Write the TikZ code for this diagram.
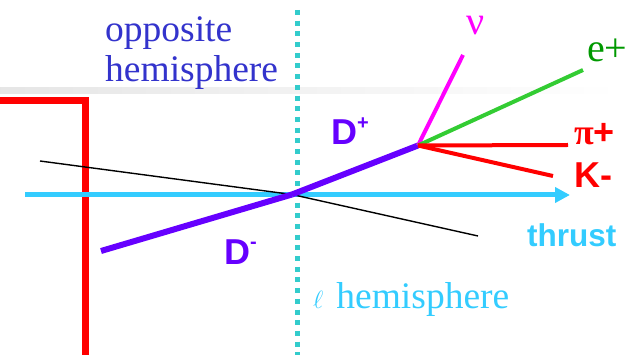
\documentclass[tikz,border=0pt]{standalone}
\usepackage{fontspec}
\setmainfont{Liberation Serif}
\setsansfont{Liberation Sans}
\usetikzlibrary{arrows.meta}
\definecolor{dpurple}{RGB}{102,0,255}
\definecolor{thrustc}{RGB}{51,204,255}
\definecolor{tealc}{RGB}{51,204,204}
\definecolor{hemblue}{RGB}{51,51,204}
\definecolor{magc}{RGB}{255,0,255}
\definecolor{greenl}{RGB}{51,204,51}
\definecolor{greent}{RGB}{0,153,0}
\definecolor{redc}{RGB}{255,0,0}
\tikzset{
  track/.style={line width=4pt},
  serifl/.style={inner sep=0pt, font=\fontsize{37.5}{40.5}\selectfont},
  sansl/.style={inner sep=0pt, font=\sffamily\bfseries\fontsize{36}{40}\selectfont},
}
\begin{document}
\begin{tikzpicture}[x=1pt,y=-1pt]
\useasboundingbox (0,0) rectangle (633,355);
% gray band
\shade[left color=black!10, right color=white] (0,88) rectangle (620,94);
% coordinates
\coordinate (ip) at (292,194.5);
\coordinate (dm) at (101,251);
\coordinate (dv) at (418,145.5);
\coordinate (nu) at (463,55);
\coordinate (ep) at (583,70);
\coordinate (pi) at (568,145);
\coordinate (km) at (553,176);
\coordinate (bl1) at (40,161);
\coordinate (bl2) at (478,236);
\coordinate (th1) at (25,195);
\coordinate (th2) at (570,195);
\coordinate (dtop) at (297.5,10);
\coordinate (dbot) at (297.5,355);
\coordinate (r1) at (0,100.5);
\coordinate (r2) at (85.5,100.5);
\coordinate (r3) at (85.5,355);
% red L
\draw[redc, line width=7.5pt] (r1) -- (r2) -- (r3);
% dotted hemisphere divider
\draw[tealc, line width=5pt, dash pattern=on 5pt off 5.7pt] (dtop) -- (dbot);
% thrust
\draw[thrustc, line width=5pt, -{Triangle[length=15pt,width=15pt]}] (th1) -- (th2);
% black line
\draw[black, line width=1.4pt] (bl1) -- (ip) -- (bl2);
% D lines
\draw[dpurple, line width=6pt] (dm) -- (ip);
\draw[dpurple, line width=6pt] (ip) -- (dv);
% decay products
\draw[magc, track] (dv) -- (nu);
\draw[greenl, track] (dv) -- (ep);
\draw[redc, track] (dv) -- (pi);
\draw[redc, track] (dv) -- (km);
% labels
\node[serifl, text=hemblue, align=left, anchor=north west] (opp) at (105,16) {opposite\\hemisphere};
\node[serifl, text=thrustc, anchor=base west] (lhem) at (313,309) {{\fontsize{40}{40}\selectfont$\ell$}\hspace{13pt}hemisphere};
\node[sansl, text=dpurple, anchor=base west] (dplus) at (331,145) {D\raisebox{0.42em}{\fontsize{20}{20}\selectfont +}};
\node[sansl, text=dpurple, anchor=base west] (dminus) at (224,265) {D\raisebox{0.45em}{\fontsize{20}{20}\selectfont -}};
\node[font=\fontsize{40}{40}\selectfont, text=magc, inner sep=0pt, anchor=base west] (nul) at (466,35) {ν};
\node[font=\fontsize{40}{40}\selectfont, text=greent, inner sep=0pt, anchor=base west] (epl) at (587,62) {e+};
\node[sansl, text=redc, anchor=base west] (pil) at (574,145) {{\rmfamily π}+};
\node[sansl, text=redc, anchor=base west] (kml) at (574,188) {K-};
\node[inner sep=0pt, font=\sffamily\bfseries\fontsize{31.5}{32}\selectfont, text=thrustc, anchor=base west] (thl) at (527,247) {thrust};
\end{tikzpicture}
\end{document}
